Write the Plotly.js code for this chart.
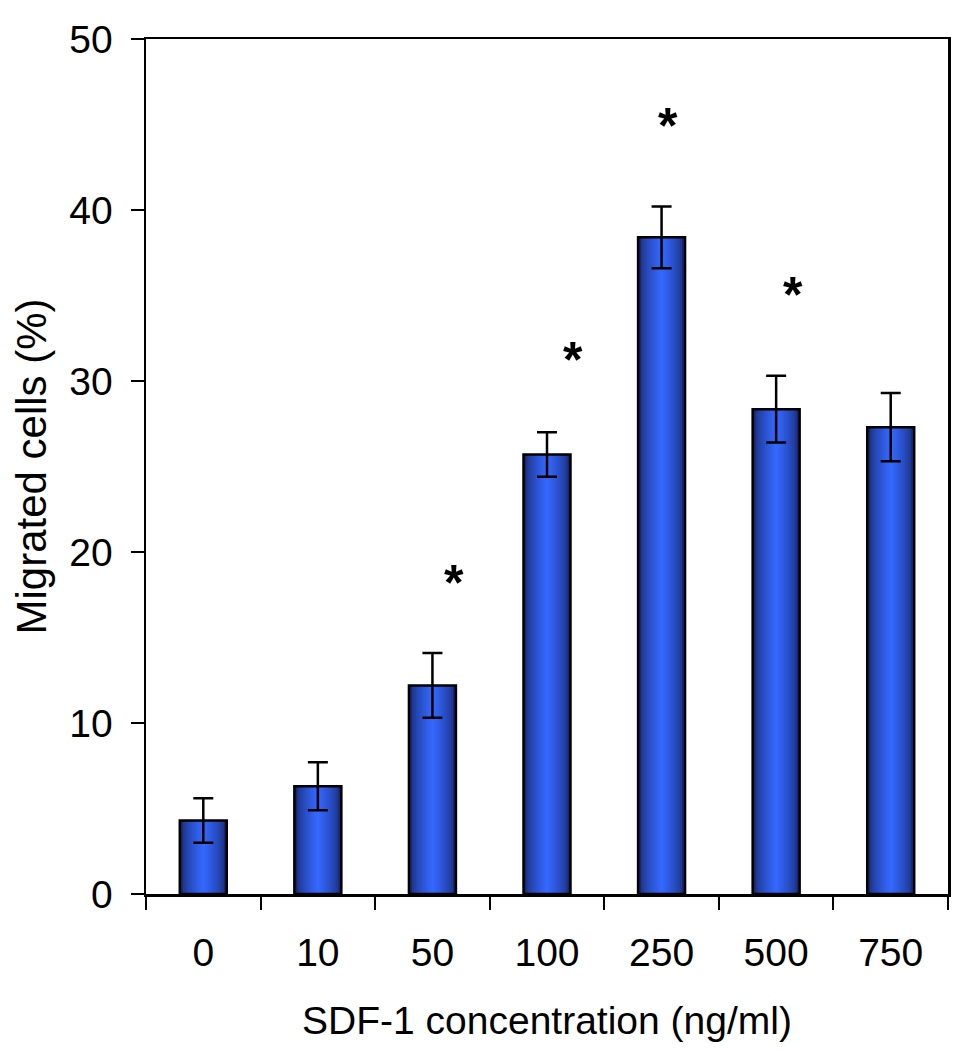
<!DOCTYPE html>
<html>
<head>
<meta charset="utf-8">
<script src="https://cdn.plot.ly/plotly-3.0.1.min.js"></script>
<style>html,body{margin:0;padding:0;background:#fff;}#chart{width:966px;height:1050px;}</style>
</head>
<body>
<div id="chart"></div>
<script>
// Data
const categories = ['0', '10', '50', '100', '250', '500', '750'];
const migrated = [4.3, 6.3, 12.2, 25.7, 38.4, 28.35, 27.3];
const errors = [1.3, 1.4, 1.9, 1.3, 1.8, 1.95, 2.0];
const starCategories = ['50', '100', '250', '500'];
const starValues = [18.5, 31.5, 45.2, 35.3];
const starLabels = ['*', '*', '*', '*'];

// Styling
const barWidth = 0.41;
const font = 'Liberation Sans, Arial, sans-serif';
const dark = [24, 38, 105];
const bright = [52, 104, 255];
const nLayers = 14;

const traces = [];
for (let i = 0; i < nLayers; i++) {
  const t = i / (nLayers - 1);
  const frac = 1 - Math.pow(t, 0.8) * 0.96;
  const mix = Math.pow(t, 0.5);
  const c = dark.map((d, k) => Math.round(d + (bright[k] - d) * mix));
  traces.push({
    type: 'bar',
    x: categories,
    y: migrated,
    width: barWidth * frac,
    marker: {color: 'rgb(' + c.join(',') + ')', line: {width: 0}},
    hoverinfo: 'skip',
    showlegend: false
  });
}
// Outline + error bars on top
traces.push({
  type: 'bar',
  x: categories,
  y: migrated,
  width: barWidth,
  marker: {color: 'rgba(0,0,0,0)', line: {color: '#000', width: 2.5}},
  error_y: {type: 'data', array: errors, visible: true, color: '#000', thickness: 2.5, width: 10},
  showlegend: false
});

const starShift = [22, 26, 6, 17];
const annotations = starCategories.map((c, i) => ({
  x: categories.indexOf(c), y: starValues[i], xref: 'x', yref: 'y',
  text: starLabels[i], showarrow: false, xshift: starShift[i], yshift: -5,
  font: {family: font, size: 50, color: '#000', weight: 'bold'}
}));

const layout = {
  width: 966, height: 1050,
  margin: {l: 146, r: 18, t: 39, b: 156},
  paper_bgcolor: '#fff', plot_bgcolor: '#fff',
  barmode: 'overlay',
  showlegend: false,
  font: {family: font, color: '#000'},
  xaxis: {
    type: 'category',
    range: [-0.5, 6.5],
    tickson: 'boundaries',
    ticks: 'outside', ticklen: 13, tickwidth: 2, tickcolor: '#000',
    showline: true, linewidth: 2.5, linecolor: '#000', mirror: true,
    showgrid: false, zeroline: false,
    tickfont: {family: font, size: 39, color: '#000'},
    ticklabelstandoff: 23,
    title: {text: 'SDF-1 concentration (ng/ml)', font: {family: font, size: 39, color: '#000'}, standoff: 34}
  },
  yaxis: {
    range: [0, 50],
    tickvals: [0, 10, 20, 30, 40, 50],
    ticks: 'outside', ticklen: 13, tickwidth: 2, tickcolor: '#000',
    showline: true, linewidth: 2.5, linecolor: '#000', mirror: true,
    showgrid: false, zeroline: false,
    tickfont: {family: font, size: 39, color: '#000'},
    ticklabelstandoff: 10,
    title: {text: 'Migrated cells (%)', font: {family: font, size: 42, color: '#000'}, standoff: 10}
  },
  annotations: annotations
};

Plotly.newPlot('chart', traces, layout, {displayModeBar: false, staticPlot: true});
</script>
</body>
</html>
